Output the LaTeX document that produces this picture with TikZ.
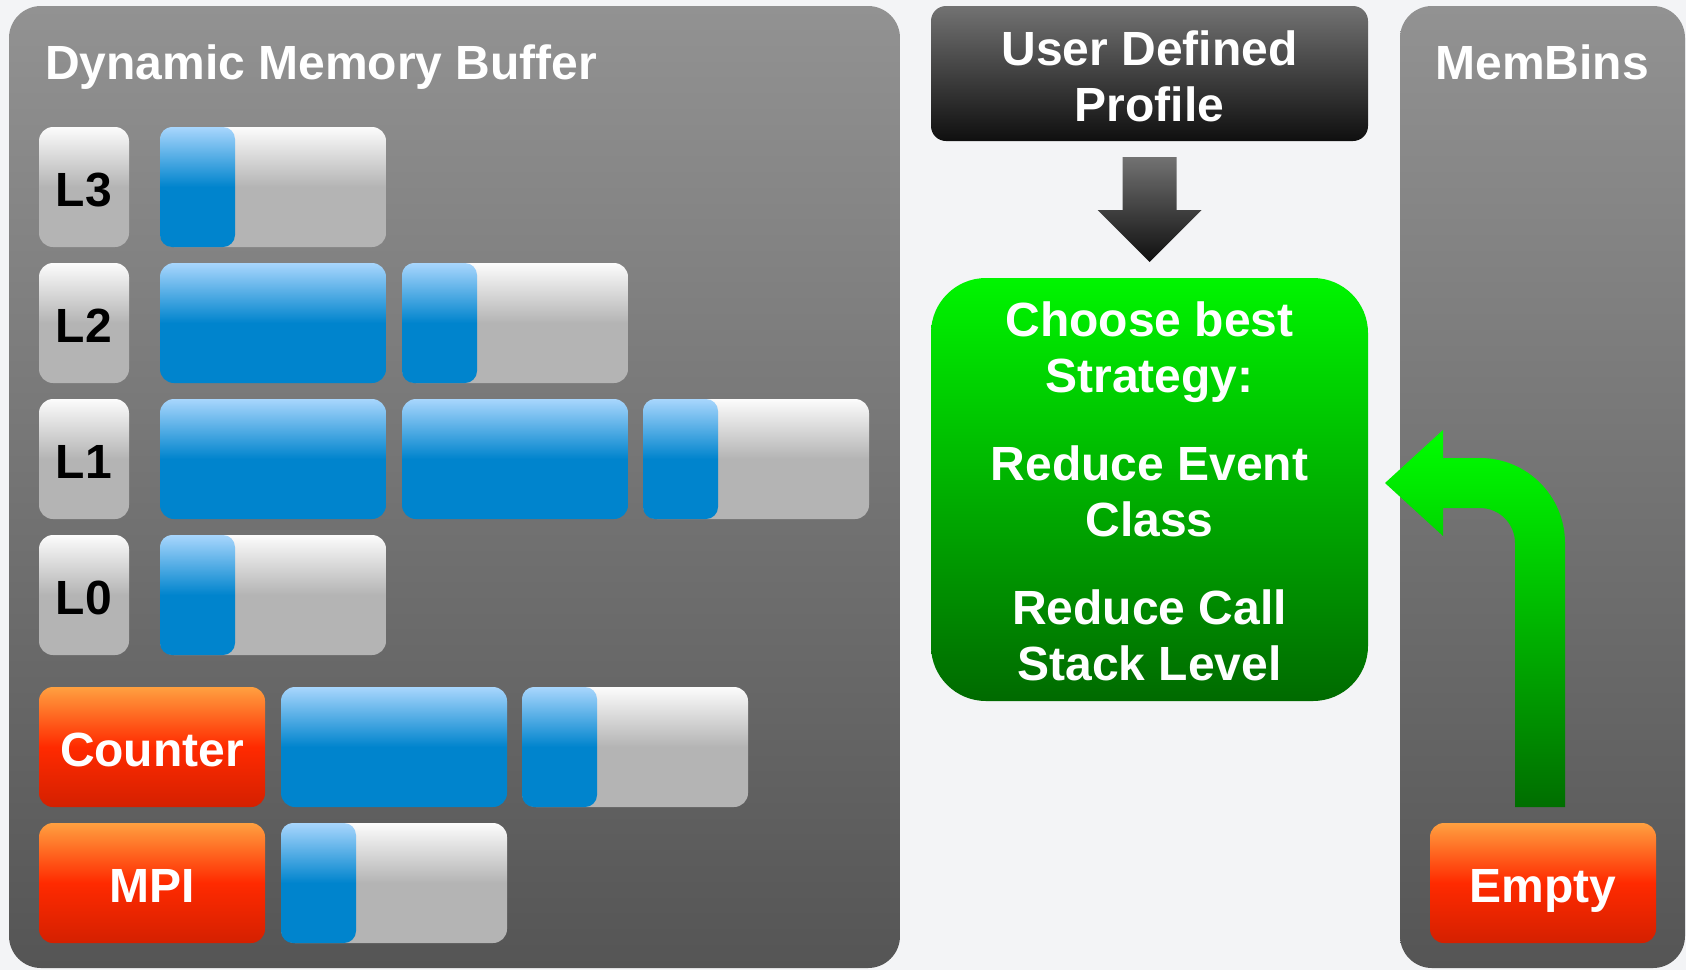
\documentclass[tikz,border=0pt]{standalone}
\usepackage{fontspec}
\setmainfont{Liberation Sans}
\usetikzlibrary{calc}

% palette
\definecolor{bg}{HTML}{F3F4F6}
\definecolor{panelTop}{HTML}{929292}
\definecolor{panelBot}{HTML}{555555}
\definecolor{glassTop}{HTML}{FCFCFC}
\definecolor{glassGray}{HTML}{B4B4B4}
\definecolor{blueTop}{HTML}{A8D6FD}
\definecolor{blueMid}{HTML}{0084CD}
\definecolor{orangeTop}{HTML}{FFA040}
\definecolor{orangeMid}{HTML}{FF2A00}
\definecolor{orangeBot}{HTML}{D42000}
\definecolor{darkTop}{HTML}{727272}
\definecolor{darkBot}{HTML}{0F0F0F}
\definecolor{greenTop}{HTML}{00F500}
\definecolor{greenBot}{HTML}{006A00}
\definecolor{arrowTop}{HTML}{00FF00}
\definecolor{arrowBot}{HTML}{006E00}

% glossy fills: gradient in the upper half, flat colour in the lower half
\pgfdeclareverticalshading{grayglass}{100bp}{color(0bp)=(glassGray); color(25bp)=(glassGray); color(50bp)=(glassGray); color(75bp)=(glassTop); color(100bp)=(glassTop)}
\pgfdeclareverticalshading{blueglass}{100bp}{color(0bp)=(blueMid); color(25bp)=(blueMid); color(50bp)=(blueMid); color(75bp)=(blueTop); color(100bp)=(blueTop)}
\pgfdeclareverticalshading{orangeglass}{100bp}{color(0bp)=(orangeBot); color(25bp)=(orangeBot); color(50bp)=(orangeMid); color(75bp)=(orangeTop); color(100bp)=(orangeTop)}

\tikzset{
  big/.style={font=\fontsize{48}{56}\selectfont\bfseries},
  tile/.style={rounded corners=14pt, inner sep=0pt, outer sep=0pt, anchor=north west, minimum height=120pt},
  label text/.style={big, text height=39pt, text depth=0pt},
  level/.style={tile, shading=grayglass, minimum width=90pt, label text, text=black},
  slot/.style={tile, shading=grayglass, minimum width=226pt},
  fullslot/.style={tile, shading=blueglass, minimum width=226pt},
  used/.style={tile, shading=blueglass, minimum width=75pt, rounded corners=12pt},
  kind/.style={tile, shading=orangeglass, minimum width=226pt, label text, text=white},
  panel/.style={rounded corners=32pt, top color=panelTop, bottom color=panelBot, anchor=north west, inner sep=0pt, outer sep=0pt},
  heading/.style={big, text=white, inner sep=0pt},
  infobox/.style={big, text=white, align=center, inner sep=0pt, outer sep=0pt, minimum width=437pt},
}

\begin{document}
\begin{tikzpicture}[x=1pt,y=1pt]
\useasboundingbox (0,0) rectangle (1686,-970);
\fill[bg] (0,0) rectangle (1686,-970);

% the two grey panels
\node[panel, minimum width=891pt, minimum height=962pt] (buffer) at (9,-6) {};
\node[panel, minimum width=285pt, minimum height=962pt] (membins) at (1400,-6) {};
\node[heading, anchor=base west] (buffertitle) at (45,-79) {Dynamic Memory Buffer};
\node[heading, anchor=base] (membinstitle) at (1542,-79) {MemBins};

% call-stack levels and their buffer slots
\node[level] (L3) at (39,-127) {L3};
\node[level] (L2) at (39,-263) {L2};
\node[level] (L1) at (39,-399) {L1};
\node[level] (L0) at (39,-535) {L0};

\node[slot] (l3a) at (160,-127) {};
\node[used] (l3a-fill) at (l3a.north west) {};

\node[fullslot] (l2a) at (160,-263) {};
\node[slot] (l2b) at (402,-263) {};
\node[used] (l2b-fill) at (l2b.north west) {};

\node[fullslot] (l1a) at (160,-399) {};
\node[fullslot] (l1b) at (402,-399) {};
\node[slot] (l1c) at (643,-399) {};
\node[used] (l1c-fill) at (l1c.north west) {};

\node[slot] (l0a) at (160,-535) {};
\node[used] (l0a-fill) at (l0a.north west) {};

% special event classes
\node[kind] (counter) at (39,-687) {Counter};
\node[fullslot] (ca) at (281,-687) {};
\node[slot] (cb) at (522,-687) {};
\node[used] (cb-fill) at (cb.north west) {};

\node[kind] (mpi) at (39,-823) {MPI};
\node[slot] (ma) at (281,-823) {};
\node[used] (ma-fill) at (ma.north west) {};

% decision column (the struts on the first lines set the vertical placement of the text)
\node[infobox, rounded corners=15pt, top color=darkTop, bottom color=darkBot, minimum height=135pt] (profile) at (1149.5,-73.5) {\rule{0pt}{41pt}User Defined\\Profile};
\node[infobox, rounded corners=55pt, top color=greenTop, bottom color=greenBot, minimum height=423pt] (strategy) at (1149.5,-489.5) {\rule{0pt}{39pt}Choose best\\Strategy:\\[32pt]Reduce Event\\Class\\[32pt]Reduce Call\\Stack Level};

% free bin
\node[kind] (empty) at (1430,-823) {Empty};

% block arrow: profile -> strategy
\coordinate (dtop) at ($(profile.south)+(0,-16)$);
\coordinate (dtip) at ($(strategy.north)+(0,16)$);
\shade[top color=darkTop, bottom color=darkBot]
  ($(dtop)+(-27,0)$) -- ($(dtop)+(27,0)$) -- ($(dtip)+(27,52)$) -- ($(dtip)+(52,52)$)
  -- (dtip) -- ($(dtip)+(-52,52)$) -- ($(dtip)+(-27,52)$) -- cycle;

% bent block arrow: empty bin -> strategy
\coordinate (gtail) at ($(empty.north)+(-3,16)$);
\coordinate (gtip) at ($(strategy.east)+(17,6.5)$);
\shade[top color=arrowTop, bottom color=arrowBot]
  let \p1=(gtail), \p2=(gtip) in
  (\x1-25,\y1) -- (\x1-25,\y2-60) arc[start angle=0, end angle=90, radius=35]
  -- (\x2+58,\y2-25) -- (\x2+58,\y2-53) -- (\p2) -- (\x2+58,\y2+53) -- (\x2+58,\y2+25)
  -- (\x1-60,\y2+25) arc[start angle=90, end angle=0, radius=85]
  -- (\x1+25,\y1) -- cycle;
\end{tikzpicture}
\end{document}
